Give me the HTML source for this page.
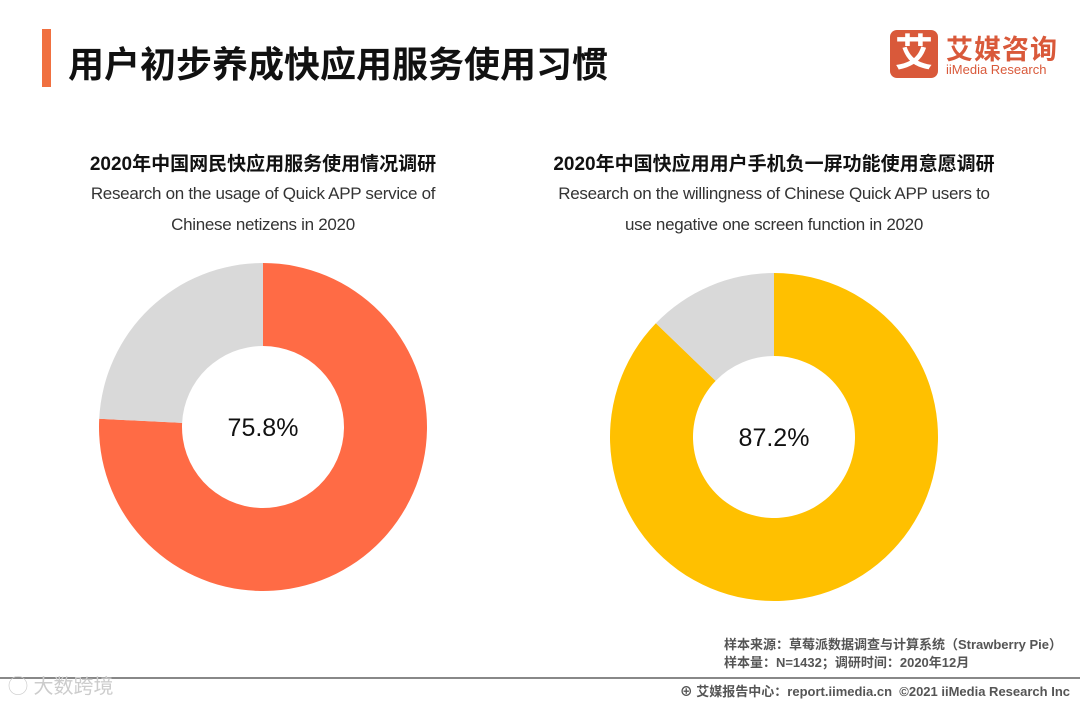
<!DOCTYPE html>
<html><head><meta charset="utf-8"><style>
body{margin:0;width:1080px;height:702px;background:#fff;position:relative;overflow:hidden;font-family:"Liberation Sans","Noto Sans CJK SC",sans-serif;}
.abs{position:absolute;}
.t{font-weight:bold;color:#111;font-size:19px;text-align:center;width:480px}
.s{color:#333;font-size:17px;text-align:center;width:480px;line-height:31px;letter-spacing:-0.3px}
</style></head><body>
<div class="abs" style="left:42px;top:29px;width:9px;height:58px;background:#f07040"></div>
<div class="abs" style="left:68px;top:36px;font-size:36px;font-weight:bold;color:#111">用户初步养成快应用服务使用习惯</div>
<div class="abs" style="left:890px;top:30px;width:170px;height:50px">
 <div style="position:absolute;left:0;top:0;width:48px;height:48px;background:#d9593a;border-radius:7px;color:#fff;font-size:38px;font-weight:bold;text-align:center;line-height:48px">艾</div>
 <div style="position:absolute;left:56px;top:-2px;color:#d9593a;font-size:27px;font-weight:bold;letter-spacing:1px">艾媒咨询</div>
 <div style="position:absolute;left:56px;top:32px;color:#d9593a;font-size:13px">iiMedia Research</div>
</div>
<div class="abs t" style="left:23px;top:149px">2020年中国网民快应用服务使用情况调研</div>
<div class="abs s" style="left:23px;top:178px">Research on the usage of Quick APP service of<br>Chinese netizens in 2020</div>
<div class="abs t" style="left:534px;top:149px">2020年中国快应用用户手机负一屏功能使用意愿调研</div>
<div class="abs s" style="left:534px;top:178px">Research on the willingness of Chinese Quick APP users to<br>use negative one screen function in 2020</div>
<svg class="abs" id="svg" style="left:0;top:0" width="1080" height="702"></svg>
<div class="abs" style="right:18px;top:636px;font-size:13px;color:#555;font-weight:bold;line-height:18px">样本来源：草莓派数据调查与计算系统（Strawberry Pie）<br>样本量：N=1432；调研时间：2020年12月</div>
<div class="abs" style="left:0;top:677px;width:1080px;height:2px;background:#888"></div>
<div class="abs" style="left:8px;top:670px;font-size:20px;color:#ccc">&#9711; 大数跨境</div>
<div class="abs" style="right:10px;top:681px;font-size:13px;color:#555;font-weight:bold">⊕ 艾媒报告中心：report.iimedia.cn &nbsp;©2021 iiMedia Research Inc</div>
<script>
const chartNames=['usage','willingness'];
const values=[75.8,87.2];
const labels=['75.8%','87.2%'];
const colors=['#ff6b45','#ffc000'];
const centers=[[263,427],[774,437]];
const svg=document.getElementById('svg');
const NS='http://www.w3.org/2000/svg';
function pt(cx,cy,r,f){const a=f*2*Math.PI;return [cx+r*Math.sin(a),cy-r*Math.cos(a)];}
function arc(cx,cy,R,r,f0,f1){
 const [a,b]=pt(cx,cy,R,f0),[c,d]=pt(cx,cy,R,f1),[e,g]=pt(cx,cy,r,f1),[h,i]=pt(cx,cy,r,f0);
 const L=(f1-f0)>0.5?1:0;
 return `M${a},${b}A${R},${R} 0 ${L} 1 ${c},${d}L${e},${g}A${r},${r} 0 ${L} 0 ${h},${i}Z`;}
values.forEach((v,k)=>{
 const [cx,cy]=centers[k];const f=v/100;
 const p1=document.createElementNS(NS,'path');p1.setAttribute('d',arc(cx,cy,164,81,0,f));p1.setAttribute('fill',colors[k]);
 
 
 svg.appendChild(p1);
 const p2=document.createElementNS(NS,'path');p2.setAttribute('d',arc(cx,cy,164,81,f,1));p2.setAttribute('fill','#d9d9d9');
 
 
 svg.appendChild(p2);
 const t=document.createElementNS(NS,'text');t.setAttribute('x',cx);t.setAttribute('y',cy+9);t.setAttribute('text-anchor','middle');
 t.setAttribute('font-size','25');t.setAttribute('fill','#111');t.setAttribute('font-family','Liberation Sans, sans-serif');t.textContent=labels[k];
 
 
 svg.appendChild(t);
});
</script>
</body></html>
